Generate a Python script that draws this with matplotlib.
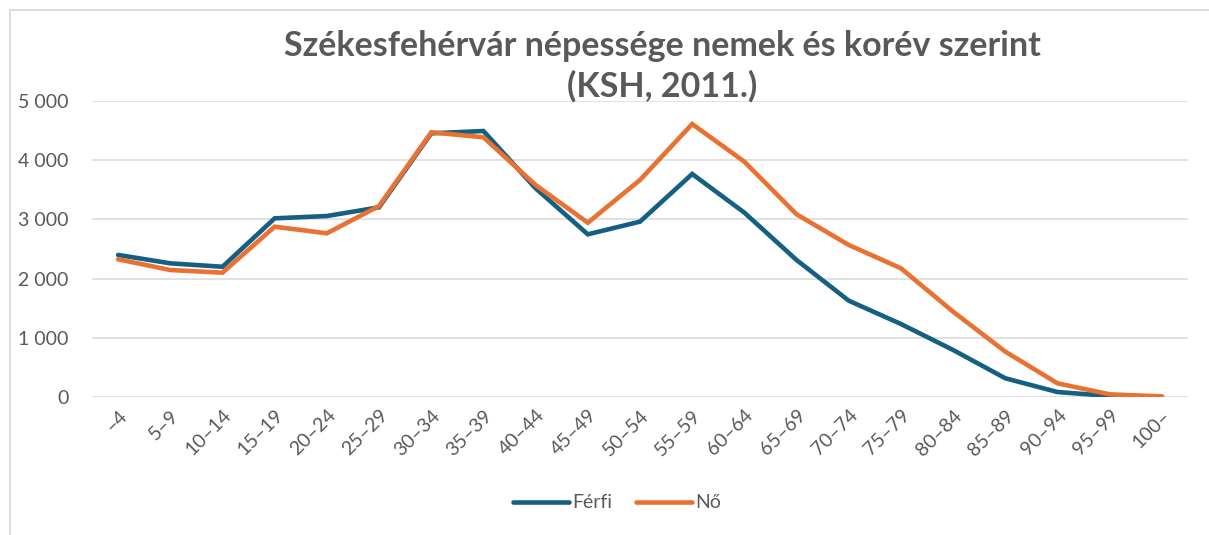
import matplotlib.pyplot as plt
from matplotlib.patches import Rectangle
from matplotlib.ticker import FuncFormatter

plt.rcParams['font.family'] = ['Lato', 'DejaVu Sans']

# korévek (age groups)
korev = ['–4', '5–9', '10–14', '15–19', '20–24', '25–29', '30–34', '35–39',
         '40–44', '45–49', '50–54', '55–59', '60–64', '65–69', '70–74',
         '75–79', '80–84', '85–89', '90–94', '95–99', '100–']

ferfi = [2400, 2258, 2200, 3018, 3057, 3204, 4454, 4493, 3525, 2748, 2962,
         3767, 3114, 2314, 1627, 1233, 794, 316, 84, 17, 2]
no = [2326, 2145, 2100, 2877, 2765, 3226, 4471, 4387, 3581, 2944, 3666,
      4611, 3975, 3086, 2568, 2174, 1441, 766, 231, 45, 10]

szurke = '#595959'
kek = '#156082'
narancs = '#E97132'

fig = plt.figure(figsize=(12.09, 5.35), dpi=100)
ax = fig.add_axes([92/1209, 1-397/535, (1188-92)/1209, (397-101)/535])

# chart border (only left and top visible in reference)
fig.patches.append(Rectangle((9.5/1209, -0.1), 1.2, 1.1-10/535,
                             transform=fig.transFigure, fill=False,
                             edgecolor='#D9D9D9', lw=1.3, zorder=0))

x = list(range(len(korev)))
ax.plot(x, ferfi, color=kek, lw=3.3, solid_capstyle='round',
        solid_joinstyle='miter', label='Férfi', zorder=3)
ax.plot(x, no, color=narancs, lw=3.3, solid_capstyle='round',
        solid_joinstyle='miter', label='Nő', zorder=4)

ax.set_xlim(-0.5, len(korev)-0.5)
ax.set_ylim(0, 5000)
ax.set_yticks(range(0, 5001, 1000))
ax.yaxis.set_major_formatter(FuncFormatter(lambda v, p: f'{int(v):,}'.replace(',', ' ')))
ax.set_xticks(x)
ax.set_xticklabels(korev, rotation=45, ha='right', rotation_mode='anchor')

ax.grid(axis='y', color='#D9D9D9', lw=1.1)
ax.set_axisbelow(True)
for s in ax.spines.values():
    s.set_visible(False)
ax.tick_params(axis='both', length=0, colors=szurke, labelsize=14)
ax.tick_params(axis='y', pad=17)
ax.tick_params(axis='x', pad=7)

fig.text(0.548, 1-66/535, 'Székesfehérvár népessége nemek és korév szerint\n(KSH, 2011.)',
         ha='center', va='center', fontsize=24.5, fontweight='bold',
         color=szurke, linespacing=1.3)

ax.legend(loc='center', bbox_to_anchor=(617/1209, 1-503/535),
          bbox_transform=fig.transFigure, ncol=2, frameon=False,
          fontsize=14, labelcolor=szurke, handlelength=2.9,
          handletextpad=0.15, columnspacing=1.2)

fig.savefig('out.png', dpi=100)
